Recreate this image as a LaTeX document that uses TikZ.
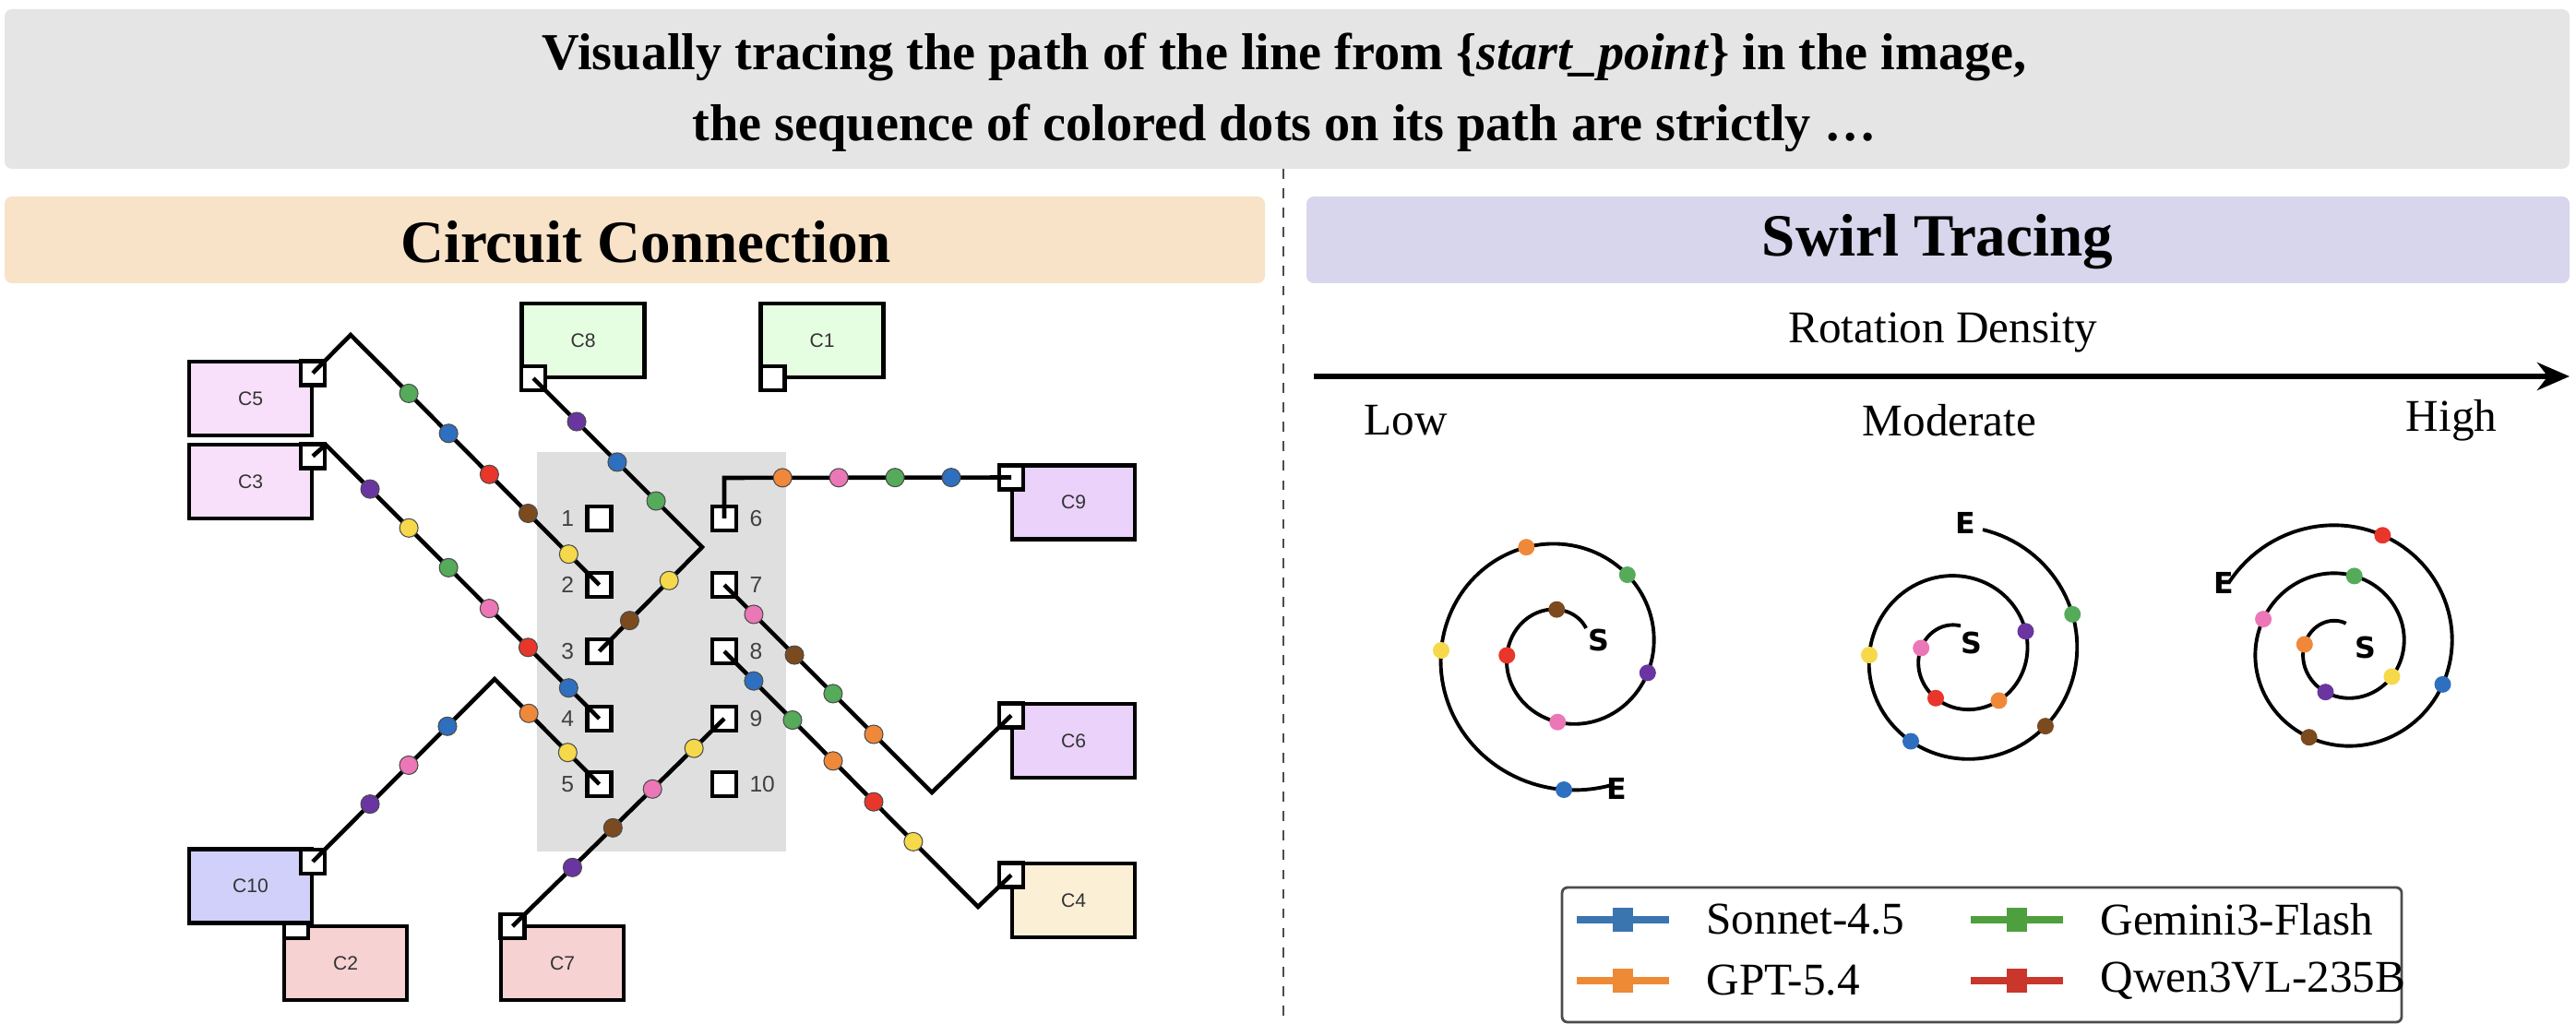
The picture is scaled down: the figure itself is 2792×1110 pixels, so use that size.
\documentclass[tikz,border=0pt]{standalone}
\usepackage{fontspec}
\setmainfont{Liberation Serif}
\newfontfamily\boxfont{Liberation Sans}
\newfontfamily\sefont{DejaVu Sans}
\usetikzlibrary{arrows.meta}

\definecolor{dgreen}{HTML}{55AB5A}
\definecolor{dblue}{HTML}{2F6FBF}
\definecolor{dred}{HTML}{E8362A}
\definecolor{dbrown}{HTML}{7B4A1F}
\definecolor{dyellow}{HTML}{F6D94A}
\definecolor{dpurple}{HTML}{6A35A0}
\definecolor{dpink}{HTML}{EC77B6}
\definecolor{dorange}{HTML}{F0883A}

\begin{document}
\begin{tikzpicture}[
    x=0.01cm, y=-0.01cm,
    panel/.style={rounded corners=0.08cm},
    comp/.style={
        rectangle,
        draw=black,
        line width=1.2pt,
        minimum width=1.33cm,
        minimum height=0.8cm,
        inner sep=0pt,
        font=\boxfont\fontsize{6}{7}\selectfont,
        text=black!80
    },
    port/.style={rectangle, draw=black, line width=1.2pt, fill=white,
        minimum size=0.26cm, inner sep=0pt},
    pin/.style={port, label distance=1pt,
        label={[font=\boxfont\fontsize{7}{8}\selectfont, text=black!75]#1}},
    wire/.style={line width=1.3pt},
    dot/.style={circle, draw=black!70, line width=0.3pt, inner sep=0pt,
        minimum size=0.2cm, fill=#1},
    sdot/.style={circle, inner sep=0pt, minimum size=0.18cm, fill=#1},
    spiral/.style={line width=1.1pt},
    sel/.style={font=\sefont\bfseries\fontsize{9}{10}\selectfont},
    lgd/.style={line width=2.2pt, #1},
    lgdbox/.style={rectangle, fill=#1, inner sep=0pt, minimum width=0.22cm, minimum height=0.26cm}
]
\useasboundingbox (0,0) rectangle (2792,1110);

% Headers
\fill[panel, gray!20] (5,10) rectangle (2785,183);
\node[font=\bfseries\fontsize{16}{22}\selectfont, align=center] (question) at (1392,100)
    {Visually tracing the path of the line from \{\textit{start\_point}\} in the image,\\
     the sequence of colored dots on its path are strictly \dots};
\fill[panel, fill={rgb,255:red,248;green,226;blue,200}] (5,213) rectangle (1371,307);
\fill[panel, fill={rgb,255:red,216;green,214;blue,236}] (1416,213) rectangle (2785,307);
\node[font=\bfseries\fontsize{18.5}{22}\selectfont] (circuit) at (700,262) {Circuit Connection};
\node[font=\bfseries\fontsize{18.5}{22}\selectfont] (swirl) at (2100,262) {Swirl Tracing};
\draw[dashed, line width=0.6pt, black!70] (1391,183) -- (1391,1110);

% Circuit board
\fill[gray!25] (582,490) rectangle (852,923);
\node[comp, fill={rgb,255:red,249;green,224;blue,250}] (c5) at (271.5,432) {C5};
\node[comp, fill={rgb,255:red,249;green,224;blue,250}] (c3) at (271.5,522) {C3};
\node[comp, fill={rgb,255:red,229;green,253;blue,224}] (c8) at (632,369) {C8};
\node[comp, fill={rgb,255:red,229;green,253;blue,224}] (c1) at (891,369) {C1};
\node[comp, fill={rgb,255:red,234;green,210;blue,250}] (c9) at (1163.5,544.5) {C9};
\node[comp, fill={rgb,255:red,234;green,210;blue,250}] (c6) at (1163.5,803) {C6};
\node[comp, fill={rgb,255:red,251;green,239;blue,213}] (c4) at (1163.5,976) {C4};
\node[comp, fill={rgb,255:red,246;green,210;blue,210}] (c2) at (374.5,1044) {C2};
\node[comp, fill={rgb,255:red,246;green,210;blue,210}] (c7) at (609.5,1044) {C7};
\node[port] (c2p) at (321,1004) {};
\node[comp, fill={rgb,255:red,208;green,208;blue,250}] (c10) at (271.5,960.5) {C10};

\node[port] (c5p) at (339,404.5) {};
\node[port] (c3p) at (339,494.5) {};
\node[port] (c8p) at (578,410) {};
\node[port] (c1p) at (837.5,410) {};
\node[port] (c9p) at (1096,517.5) {};
\node[port] (c6p) at (1096,775.5) {};
\node[port] (c4p) at (1096,948.5) {};
\node[port] (c10p) at (339,934) {};
\node[port] (c7p) at (555.5,1004) {};

\foreach \i/\y in {1/562,2/634,3/706,4/779,5/850}
    \node[pin=left:\i] (p\i) at (649.5,\y) {};
\foreach \i/\y in {6/562,7/634,8/706,9/779,10/850}
    \node[pin=right:\i] (p\i) at (785,\y) {};

% Wires
\draw[wire] (c5p.center) -- (380,363) -- (p2.center)
    node[dot=dgreen,pos=0.234]{} node[dot=dblue,pos=0.394]{} node[dot=dred,pos=0.558]{}
    node[dot=dbrown,pos=0.714]{} node[dot=dyellow,pos=0.877]{};
\draw[wire] (c3p.center) -- (353,482) -- (p4.center)
    node[dot=dpurple,pos=0.162]{} node[dot=dyellow,pos=0.304]{} node[dot=dgreen,pos=0.449]{}
    node[dot=dpink,pos=0.598]{} node[dot=dred,pos=0.740]{} node[dot=dblue,pos=0.888]{};
\draw[wire] (c8p.center) -- (761,593)
    node[dot=dpurple,pos=0.257]{} node[dot=dblue,pos=0.497]{} node[dot=dgreen,pos=0.727]{}
    -- (p3.center)
    node[dot=dyellow,pos=0.321]{} node[dot=dbrown,pos=0.705]{};
\draw[wire] (p6.center) -- (785,518) -- (c9p.center)
    node[dot=dorange,pos=0.203]{} node[dot=dpink,pos=0.399]{} node[dot=dgreen,pos=0.595]{}
    node[dot=dblue,pos=0.791]{};
\draw[wire] (p7.center) -- (1010,859)
    node[dot=dpink,pos=0.142]{} node[dot=dbrown,pos=0.338]{} node[dot=dgreen,pos=0.524]{}
    node[dot=dorange,pos=0.720]{}
    -- (c6p.center);
\draw[wire] (p8.center) -- (1060,983)
    node[dot=dblue,pos=0.116]{} node[dot=dgreen,pos=0.269]{} node[dot=dorange,pos=0.429]{}
    node[dot=dred,pos=0.589]{} node[dot=dyellow,pos=0.745]{}
    -- (c4p.center);
\draw[wire] (c10p.center) -- (536,736)
    node[dot=dpurple,pos=0.315]{} node[dot=dpink,pos=0.528]{} node[dot=dblue,pos=0.741]{}
    -- (p5.center)
    node[dot=dorange,pos=0.327]{} node[dot=dyellow,pos=0.699]{};
\draw[wire] (c7p.center) -- (p9.center)
    node[dot=dpurple,pos=0.283]{} node[dot=dbrown,pos=0.474]{} node[dot=dpink,pos=0.661]{}
    node[dot=dyellow,pos=0.857]{};

% Swirl axis
\node[font=\fontsize{14}{16}\selectfont] (density) at (2106,361) {Rotation Density};
\coordinate (axstart) at (1424,408);
\coordinate (axend) at (2785,408);
\draw[line width=1.8pt, -{Stealth[length=0.35cm,width=0.3cm]}] (axstart) -- (axend);
\node[font=\fontsize{14}{16}\selectfont] (low) at (1524,456) {Low};
\node[font=\fontsize{14}{16}\selectfont] (moderate) at (2113,456) {Moderate};
\node[font=\fontsize{14}{16}\selectfont] (high) at (2657,456) {High};

% Low
\draw[spiral] plot[domain=45:650, samples=220] ({1695+(25+0.2*\x)*cos(\x)}, {705-(25+0.2*\x)*sin(\x)});
\foreach \t/\c in {100/dbrown,185/dred,265/dpink,345/dpurple,410/dgreen,470/dorange,540/dyellow,630/dblue}
    \node[sdot=\c] at ({1695+(25+0.2*\t)*cos(\t)}, {705-(25+0.2*\t)*sin(\t)}) {};
\node[sel] at (1733,694) {S};
\node[sel] at (1752,855) {E};

% Moderate
\draw[spiral] plot[domain=90:800, samples=240] ({2125+(18+0.15*\x)*cos(\x)}, {710-(18+0.15*\x)*sin(\x)});
\foreach \t/\c in {170/dpink,240/dred,310/dorange,380/dpurple,540/dyellow,600/dblue,680/dbrown,740/dgreen}
    \node[sdot=\c] at ({2125+(18+0.15*\t)*cos(\t)}, {710-(18+0.15*\t)*sin(\t)}) {};
\node[sel] at (2137,697) {S};
\node[sel] at (2130,567) {E};

% High
\draw[spiral] plot[domain=80:870, samples=260] ({2538+(15+0.145*\x)*cos(\x)}, {702-(15+0.145*\x)*sin(\x)});
\foreach \t/\c in {175/dorange,250/dpurple,330/dyellow,440/dgreen,520/dpink,610/dbrown,700/dblue,790/dred}
    \node[sdot=\c] at ({2538+(15+0.145*\t)*cos(\t)}, {702-(15+0.145*\t)*sin(\t)}) {};
\node[sel] at (2564,702) {S};
\node[sel] at (2410,632) {E};

% Legend
\draw[rounded corners=0.06cm, black!70, line width=0.8pt, fill=white] (1693,962) rectangle (2603,1108);
\foreach \x/\y/\c/\t in {1709/997/{rgb,255:red,58;green,117;blue,176}/Sonnet-4.5,
                          1709/1063/{rgb,255:red,238;green,138;blue,53}/GPT-5.4,
                          2136/997/{rgb,255:red,78;green,159;blue,61}/Gemini3-Flash,
                          2136/1063/{rgb,255:red,201;green,55;blue,44}/Qwen3VL-235B} {
    \draw[lgd={color=\c}] (\x,\y) -- ++(100,0);
    \node[lgdbox={\c}] at (\x+50,\y) {};
    \node[anchor=west, font=\fontsize{14}{16}\selectfont] at (\x+128,\y) {\t};
}
\end{tikzpicture}
\end{document}
